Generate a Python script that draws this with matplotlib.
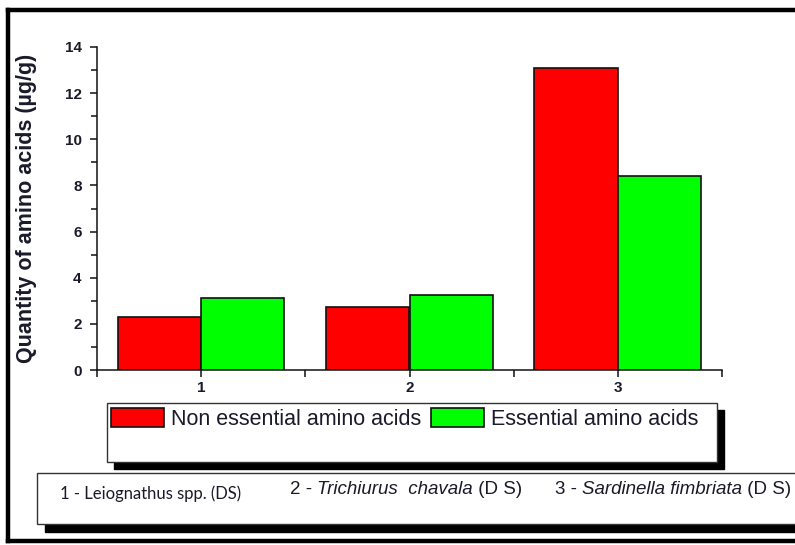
import numpy as np
import matplotlib.pyplot as plt
from matplotlib.patches import Rectangle
from matplotlib.lines import Line2D
from matplotlib.ticker import MultipleLocator

groups = [1, 2, 3]
non_essential = [2.29, 2.74, 13.1]
essential = [3.12, 3.25, 8.4]
series_names = ['Non essential amino acids', 'Essential amino acids']
species = [
    [('1 - Leiognathus spp. (DS)', 'normal')],
    [('2 - ', 'normal'), ('Trichiurus  chavala', 'italic'), (' (D S)', 'normal')],
    [('3 - ', 'normal'), ('Sardinella fimbriata', 'italic'), (' (D S)', 'normal')],
]

W, H = 795, 545
fig = plt.figure(figsize=(W / 100, H / 100), dpi=100)
fig.patch.set_facecolor('white')

def fx(px):
    return px / W

def fy(py):
    return 1 - py / H

ax = fig.add_axes([fx(97), fy(370), fx(722) - fx(97), fy(47) - fy(370)])
ax.patch.set_alpha(0)

x = np.array(groups, dtype=float)
bw = 0.4
b1 = ax.bar(x - bw / 2, non_essential, bw, color='#ff0000', edgecolor='#111111', linewidth=1.2, label=series_names[0], zorder=3)
b2 = ax.bar(x + bw / 2, essential, bw, color='#00ff00', edgecolor='#111111', linewidth=1.2, label=series_names[1], zorder=3)

ax.set_xlim(0.5, 3.5)
ax.set_ylim(0, 14)
ax.spines['top'].set_visible(False)
ax.spines['right'].set_visible(False)
for s in ['left', 'bottom']:
    ax.spines[s].set_linewidth(1.1)
    ax.spines[s].set_color('#111111')

ax.set_xticks(groups)
ax.set_xticklabels([str(g) for g in groups])
ax.xaxis.set_minor_locator(MultipleLocator(0.5))
ax.yaxis.set_major_locator(MultipleLocator(2))
ax.yaxis.set_minor_locator(MultipleLocator(1))
ax.tick_params(which='major', direction='out', length=5, width=1.1, color='#111111')
ax.tick_params(which='minor', direction='out', length=4, width=1.1, color='#111111')
ax.tick_params(axis='x', which='minor', length=5)
ax.tick_params(axis='y', pad=6)
ax.tick_params(axis='x', pad=3)
for lab in ax.get_xticklabels() + ax.get_yticklabels():
    lab.set_fontfamily('Liberation Sans')
    lab.set_fontweight('bold')
    lab.set_fontsize(11)
    lab.set_color('#1a1a2a')

fig.text(fx(27), fy(208), 'Quantity of amino acids (µg/g)', rotation=90, ha='center', va='center',
         fontsize=15.5, fontweight='bold', family='Liberation Sans', color='#1a1a2a')

# outer frame
for (x0, y0, x1, y1) in [(8, 10, 8, 541), (8, 10, 800, 10), (8, 541, 800, 541)]:
    fig.add_artist(Line2D([fx(x0), fx(x1)], [fy(y0), fy(y1)], color='black', linewidth=3.2,
                          transform=fig.transFigure, solid_capstyle='projecting'))

# legend box with shadow
fig.add_artist(Rectangle((fx(114), fy(469)), fx(717) - fx(107), fy(403) - fy(462), transform=fig.transFigure,
                         facecolor='black', edgecolor='black', zorder=1))
fig.add_artist(Rectangle((fx(107), fy(462)), fx(717) - fx(107), fy(403) - fy(462), transform=fig.transFigure,
                         facecolor='white', edgecolor='#333333', linewidth=1.0, zorder=2))
leg = fig.legend(handles=[b1, b2], labels=series_names, loc='center left', bbox_to_anchor=(fx(111), fy(419)),
                 ncol=2, frameon=False, handlelength=2.45, handleheight=0.95,
                 handletextpad=0.35, columnspacing=0.45, borderpad=0, borderaxespad=0,
                 prop={'family': 'Liberation Sans', 'size': 15.5})
leg.set_zorder(5)
for t in leg.get_texts():
    t.set_color('#1a1a2a')

# species box with shadow
fig.add_artist(Rectangle((fx(45), fy(532)), fx(820) - fx(45), fy(473) - fy(524), transform=fig.transFigure,
                         facecolor='black', edgecolor='black', zorder=1))
fig.add_artist(Rectangle((fx(37), fy(524)), fx(820) - fx(37), fy(473) - fy(524), transform=fig.transFigure,
                         facecolor='white', edgecolor='#333333', linewidth=1.0, zorder=2))

starts = [(60, 494), (290, 490), (555, 490)]
fonts = [(['Lato', 'DejaVu Sans'], 12), ('Liberation Sans', 13.5), ('Liberation Sans', 13.5)]
texts = []
for (sx, sy), pieces, (fam, size) in zip(starts, species, fonts):
    for txt, style in pieces:
        t = fig.text(fx(sx), fy(sy), txt, fontsize=size, family=fam, style=style, color='#1a1a2a',
                     va='center', ha='left', zorder=6)
        texts.append(t)

# chain the pieces of each label one after the other
fig.canvas.draw()
r = fig.canvas.get_renderer()
i = 0
for (sx, sy), pieces in zip(starts, species):
    cur = sx
    for _ in pieces:
        t = texts[i]
        t.set_position((fx(cur), fy(sy)))
        cur += t.get_window_extent(renderer=r).width
        i += 1

fig.savefig('out.png', dpi=100, facecolor='white')
